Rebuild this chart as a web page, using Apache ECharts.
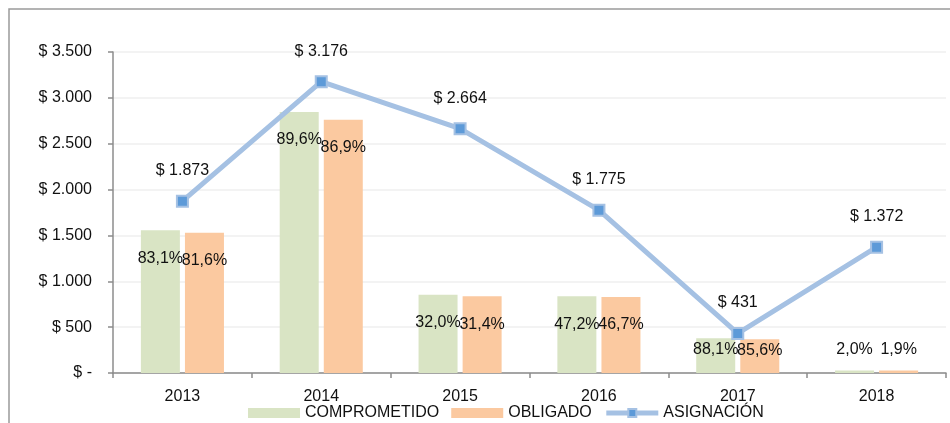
<!DOCTYPE html>
<html>
<head>
<meta charset="utf-8">
<script src="https://cdn.jsdelivr.net/npm/echarts@6/dist/echarts.min.js"></script>
<style>
  html, body { margin: 0; padding: 0; background: #fff; }
  #chart { width: 950px; height: 423px; }
</style>
</head>
<body>
<div id="chart"></div>
<script>
// datos del gráfico
const years = ['2013', '2014', '2015', '2016', '2017', '2018']
const asignacion = [1873, 3176, 2664, 1775, 431, 1372]
const comprometido = [1556, 2846, 852, 838, 380, 27]
const obligado = [1528, 2760, 836, 829, 369, 26]
const compPct = [83.1, 89.6, 32.0, 47.2, 88.1, 2.0]
const oblPct = [81.6, 86.9, 31.4, 46.7, 85.6, 1.9]
const yTicks = [0, 500, 1000, 1500, 2000, 2500, 3000, 3500]

const FONT = "'Liberation Sans', Arial, sans-serif"
const FS = 16

const money = (v) => v === 0 ? '$ -' : '$ ' + String(v).replace(/\B(?=(\d{3})+(?!\d))/g, '.')
const pct = (v) => v.toFixed(1).replace('.', ',') + '%'

// posiciones de etiquetas como en el original (2017 y 2018 movidas a mano)
const barLabel = (i) => {
  if (i === 4) return {position: 'insideTop', distance: 3}
  if (i === 5) return {position: 'top', distance: 13}
  return {}
}
const barData = (arr) => arr.map((v, i) => ({value: v, label: barLabel(i)}))

const chart = echarts.init(document.getElementById('chart'))

const option = {
  animation: false,
  textStyle: {fontFamily: FONT},
  graphic: [
    {
      type: 'rect',
      shape: {x: 9, y: 9, width: 1000, height: 600},
      style: {fill: 'none', stroke: '#9a9a9a', lineWidth: 1.5},
      silent: true,
    },
  ],
  grid: {left: 113, right: 4, top: 52, bottom: 50},
  legend: {
    bottom: -3,
    left: 243,
    itemWidth: 52,
    itemHeight: 10,
    itemGap: 12,
    lineStyle: {width: 5},
    textStyle: {fontFamily: FONT, fontSize: FS, color: '#111'},
    data: [
      {name: 'COMPROMETIDO', icon: 'rect'},
      {name: 'OBLIGADO', icon: 'rect'},
      {name: 'ASIGNACIÓN'},
    ],
  },
  xAxis: {
    type: 'category',
    data: years,
    axisLine: {lineStyle: {color: '#8c8c8c', width: 1.5}},
    axisTick: {show: true, length: 5, lineStyle: {color: '#8c8c8c', width: 1.5}},
    axisLabel: {fontFamily: FONT, fontSize: FS, color: '#111', margin: 16},
  },
  yAxis: {
    type: 'value',
    min: 0,
    max: 3500,
    interval: 500,
    axisLine: {show: true, lineStyle: {color: '#8c8c8c', width: 1.5}},
    axisTick: {show: true, length: 5, lineStyle: {color: '#8c8c8c', width: 1.5}},
    axisLabel: {
      fontFamily: FONT,
      fontSize: FS,
      color: '#111',
      margin: 21,
      formatter: (v) => yTicks.includes(v) ? money(v) : '',
    },
    splitLine: {lineStyle: {color: '#efefef', width: 1.5}},
  },
  series: [
    {
      name: 'COMPROMETIDO',
      type: 'bar',
      data: barData(comprometido),
      barWidth: 39,
      barGap: '13%',
      itemStyle: {color: '#d9e4c4'},
      label: {
        show: true,
        position: 'insideTop',
        distance: 20,
        fontFamily: FONT,
        fontSize: FS,
        color: '#111',
        formatter: (p) => pct(compPct[p.dataIndex]),
      },
    },
    {
      name: 'OBLIGADO',
      type: 'bar',
      data: barData(obligado),
      barWidth: 39,
      itemStyle: {color: '#fbc9a0'},
      label: {
        show: true,
        position: 'insideTop',
        distance: 20,
        fontFamily: FONT,
        fontSize: FS,
        color: '#111',
        formatter: (p) => pct(oblPct[p.dataIndex]),
      },
    },
    {
      name: 'ASIGNACIÓN',
      type: 'line',
      data: asignacion,
      symbol: 'rect',
      symbolSize: 11,
      itemStyle: {color: '#5d9ad8', borderColor: '#a5c1e3', borderWidth: 2},
      lineStyle: {color: '#a5c1e3', width: 5},
      label: {
        show: true,
        position: 'top',
        distance: 16,
        fontFamily: FONT,
        fontSize: FS,
        color: '#111',
        formatter: (p) => money(p.value),
      },
      z: 5,
    },
  ],
}

chart.setOption(option)
</script>
</body>
</html>
